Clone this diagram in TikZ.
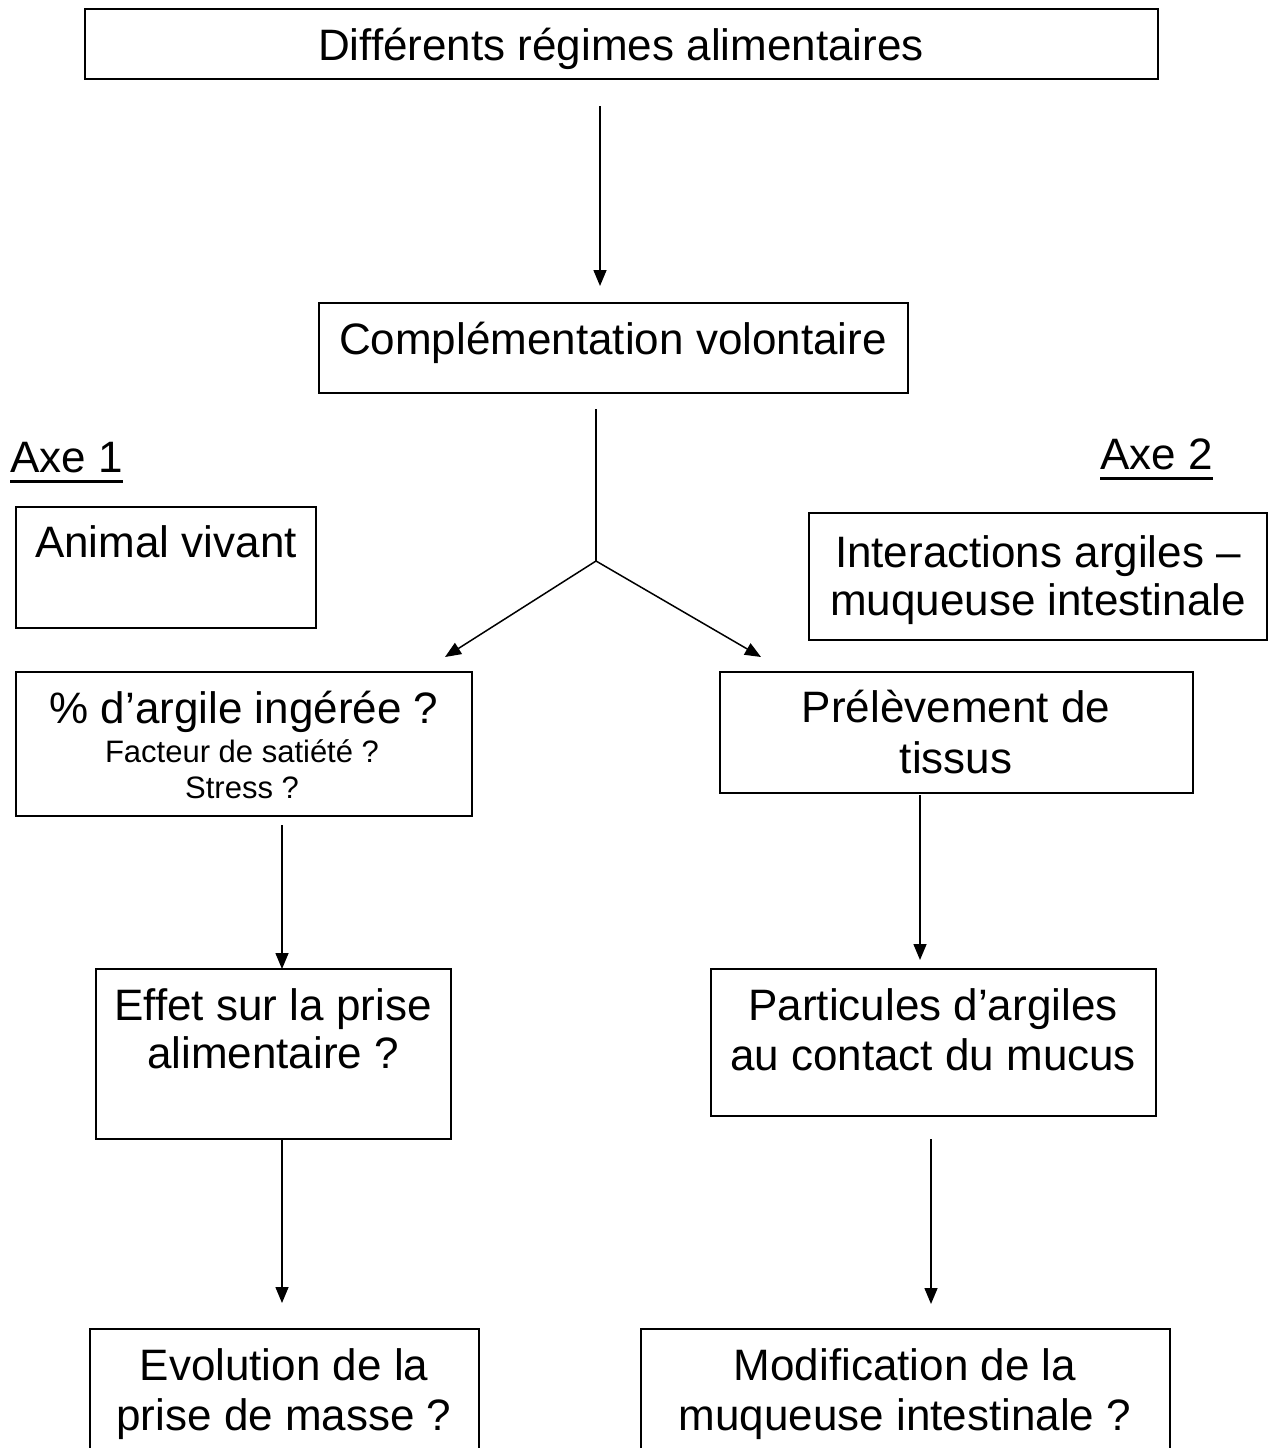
\documentclass[tikz,border=0pt]{standalone}
\usepackage{fontspec}
\setmainfont{Liberation Sans}
\usetikzlibrary{arrows.meta}
\tikzset{
  boxnode/.style={draw, line width=2pt, inner sep=0pt, outer sep=0pt},
  bigtxt/.style={inner sep=0pt, anchor=base, font=\fontsize{44}{50}\selectfont},
  smalltxt/.style={inner sep=0pt, anchor=base, font=\fontsize{31}{36}\selectfont},
  arr/.style={line width=1.5pt, -{Triangle[length=16pt,width=13pt]}},
  plainline/.style={line width=1.5pt},
}
\begin{document}
\begin{tikzpicture}[x=1pt,y=-1pt]
\clip (0,0) rectangle (1268,1448);
\useasboundingbox (0,0) rectangle (1268,1448);

% boxes
\node[boxnode, minimum width=1073pt, minimum height=70pt] (b1) at (621.5,44) {};
\node[boxnode, minimum width=589pt, minimum height=90pt] (b2) at (613.5,348) {};
\node[boxnode, minimum width=300pt, minimum height=121pt] (anim) at (166,567.5) {};
\node[boxnode, minimum width=458pt, minimum height=127pt] (inter) at (1038,576.5) {};
\node[boxnode, minimum width=456pt, minimum height=144pt] (pct) at (244,744) {};
\node[boxnode, minimum width=473pt, minimum height=121pt] (prel) at (956.5,732.5) {};
\node[boxnode, minimum width=355pt, minimum height=170pt] (effet) at (273.5,1054) {};
\node[boxnode, minimum width=445pt, minimum height=147pt] (part) at (933.5,1042.5) {};
\node[boxnode, minimum width=389pt, minimum height=140pt] (evol) at (284.5,1399) {};
\node[boxnode, minimum width=529pt, minimum height=140pt] (modif) at (905.5,1399) {};

% texts
\node[bigtxt] (t1) at (621,60) {Différents régimes alimentaires};
\node[bigtxt] (t2) at (613,354) {Complémentation volontaire};
\node[bigtxt, anchor=base west] (axe1) at (10,472) {Axe 1};
\node[bigtxt, anchor=base west] (axe2) at (1100,469) {Axe 2};
\draw[line width=3pt] ([yshift=-9pt]axe1.base west) -- ([yshift=-9pt]axe1.base east);
\draw[line width=3pt] ([yshift=-9pt]axe2.base west) -- ([yshift=-9pt]axe2.base east);
\node[bigtxt] (t3) at (166,557) {Animal vivant};
\node[bigtxt] (t4a) at (1038,567) {Interactions argiles –};
\node[bigtxt] (t4b) at (1038,615) {muqueuse intestinale};
\node[bigtxt] (t5a) at (244,723) {\% d’argile ingérée ?};
\node[smalltxt] (t5b) at (242,762) {Facteur de satiété ?};
\node[smalltxt] (t5c) at (242,798) {Stress ?};
\node[bigtxt] (t6a) at (956,722) {Prélèvement de};
\node[bigtxt] (t6b) at (956,773) {tissus};
\node[bigtxt] (t7a) at (273,1020) {Effet sur la prise};
\node[bigtxt] (t7b) at (273,1068) {alimentaire ?};
\node[bigtxt] (t8a) at (933,1020) {Particules d’argiles};
\node[bigtxt] (t8b) at (933,1070) {au contact du mucus};
\node[bigtxt] (t9a) at (284,1380) {Evolution de la};
\node[bigtxt] (t9b) at (284,1430) {prise de masse ?};
\node[bigtxt] (t10a) at (905,1380) {Modification de la};
\node[bigtxt] (t10b) at (905,1430) {muqueuse intestinale ?};

% connectors
\coordinate (split) at (596,561);
\draw[arr, shorten <=27pt, shorten >=17pt] (b1.south -| 600,0) -- (b2.north -| 600,0);
\draw[plainline, shorten <=16pt] (b2.south -| split) -- (split);
\draw[arr] (split) -- (445,657);
\draw[arr] (split) -- (761,657);
\draw[arr, shorten <=9pt] (pct.south -| 282,0) -- (effet.north -| 282,0);
\draw[arr, shorten <=2pt, shorten >=9pt] (prel.south -| 920,0) -- (part.north -| 920,0);
\draw[arr, shorten >=26pt] (effet.south -| 282,0) -- (evol.north -| 282,0);
\draw[arr, shorten <=23pt, shorten >=25pt] (part.south -| 931,0) -- (modif.north -| 931,0);
\end{tikzpicture}
\end{document}
